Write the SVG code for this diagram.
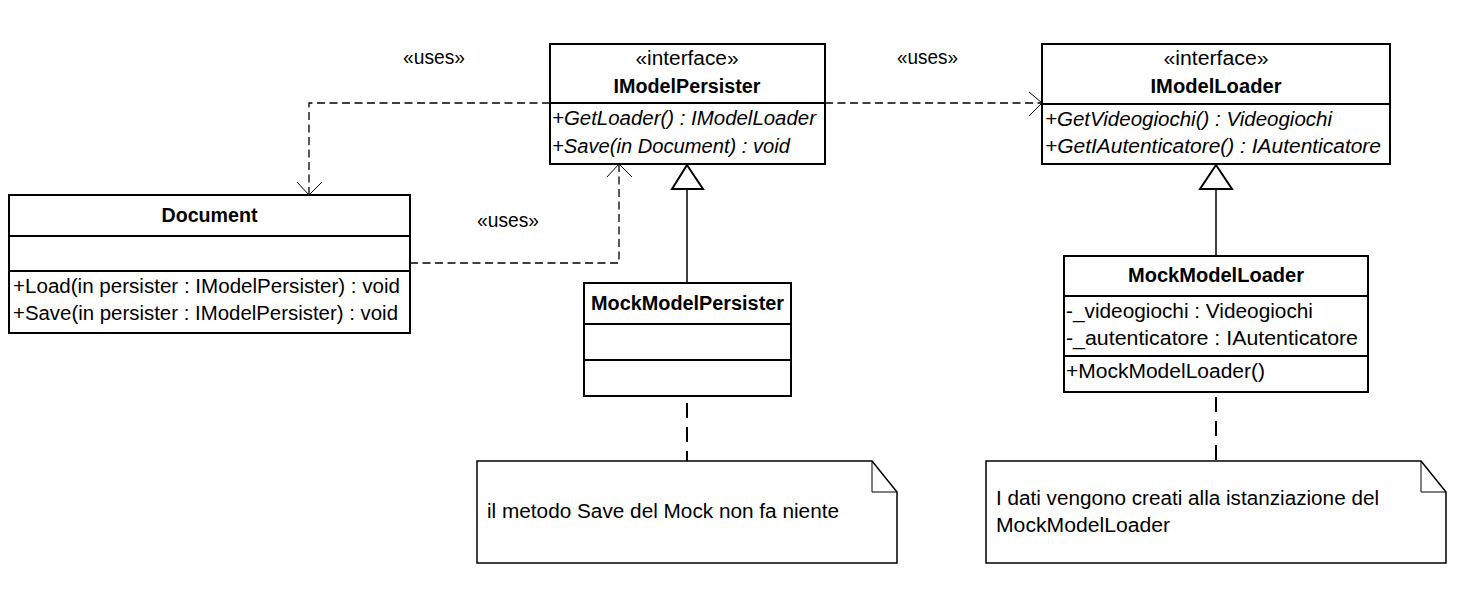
<svg xmlns="http://www.w3.org/2000/svg" width="1463" height="607" viewBox="0 0 1463 607">
<style>
text{font-family:"Liberation Sans",Arial,sans-serif;font-size:19.5px;fill:#000}
.b{font-weight:bold}
.i{font-style:italic}
.c{text-anchor:middle}
.box{fill:#fff;stroke:#000;stroke-width:2}
.div{stroke:#000;stroke-width:2}
.dep{fill:none;stroke:#000;stroke-width:1.3;stroke-dasharray:8 4.5}
.head{fill:none;stroke:#000;stroke-width:1}
.gen{fill:none;stroke:#000;stroke-width:1.5}
.tri{fill:#fff;stroke:#000;stroke-width:2}
.anchor{fill:none;stroke:#000;stroke-width:2;stroke-dasharray:15 9}
.note{fill:#fff;stroke:#000;stroke-width:1.5}
.fold{fill:none;stroke:#000;stroke-width:1}
</style>
<rect width="1463" height="607" fill="#fff"/>
<g id="connectors">
<path class="dep" d="M550,103 H309 V194"/>
<path class="head" d="M297,182 L309,195 L322,182"/>
<path class="dep" d="M410,263 H619 V165"/>
<path class="head" d="M607,177 L619,164 L632,177"/>
<path class="dep" d="M825,103 H1041"/>
<path class="head" d="M1029,92 L1042,103 L1029,116"/>
<line class="gen" x1="687" y1="283" x2="687" y2="189"/>
<polygon class="tri" points="687,165 672,189 703,189"/>
<line class="gen" x1="1216" y1="256" x2="1216" y2="189"/>
<polygon class="tri" points="1216,165 1200,189 1232,189"/>
<line class="anchor" x1="687" y1="397" x2="687" y2="461" stroke-dashoffset="-6"/>
<line class="anchor" x1="1216" y1="392" x2="1216" y2="461" stroke-dashoffset="-5"/>
<text x="403" y="64" textLength="62" lengthAdjust="spacingAndGlyphs">«uses»</text>
<text x="897" y="64" textLength="61" lengthAdjust="spacingAndGlyphs">«uses»</text>
<text x="477" y="227" textLength="62" lengthAdjust="spacingAndGlyphs">«uses»</text>
</g>
<g id="Document">
<rect class="box" x="9" y="195" width="401" height="138"/>
<line class="div" x1="9" y1="236" x2="410" y2="236"/>
<line class="div" x1="9" y1="271" x2="410" y2="271"/>
<text class="b c" x="209.5" y="222" textLength="96" lengthAdjust="spacingAndGlyphs">Document</text>
<text x="13" y="293" textLength="387" lengthAdjust="spacingAndGlyphs">+Load(in persister : IModelPersister) : void</text>
<text x="13" y="320" textLength="385" lengthAdjust="spacingAndGlyphs">+Save(in persister : IModelPersister) : void</text>
</g>
<g id="IModelPersister">
<rect class="box" x="550" y="44" width="275" height="120"/>
<line class="div" x1="550" y1="103" x2="825" y2="103"/>
<text class="c" x="687" y="65" textLength="103" lengthAdjust="spacingAndGlyphs">«interface»</text>
<text class="b c" x="687" y="93" textLength="147" lengthAdjust="spacingAndGlyphs">IModelPersister</text>
<text class="i" x="552" y="125" textLength="264" lengthAdjust="spacingAndGlyphs">+GetLoader() : IModelLoader</text>
<text class="i" x="552" y="153" textLength="238" lengthAdjust="spacingAndGlyphs">+Save(in Document) : void</text>
</g>
<g id="IModelLoader">
<rect class="box" x="1042" y="44" width="348" height="120"/>
<line class="div" x1="1042" y1="104" x2="1390" y2="104"/>
<text class="c" x="1216" y="65" textLength="105" lengthAdjust="spacingAndGlyphs">«interface»</text>
<text class="b c" x="1216" y="93" textLength="131" lengthAdjust="spacingAndGlyphs">IModelLoader</text>
<text class="i" x="1045" y="126" textLength="287" lengthAdjust="spacingAndGlyphs">+GetVideogiochi() : Videogiochi</text>
<text class="i" x="1045" y="153" textLength="336" lengthAdjust="spacingAndGlyphs">+GetIAutenticatore() : IAutenticatore</text>
</g>
<g id="MockModelPersister">
<rect class="box" x="584" y="283" width="207" height="113"/>
<line class="div" x1="584" y1="324" x2="791" y2="324"/>
<line class="div" x1="584" y1="360" x2="791" y2="360"/>
<text class="b c" x="687.5" y="310" textLength="193" lengthAdjust="spacingAndGlyphs">MockModelPersister</text>
</g>
<g id="MockModelLoader">
<rect class="box" x="1064" y="256" width="304" height="136"/>
<line class="div" x1="1064" y1="296" x2="1368" y2="296"/>
<line class="div" x1="1064" y1="356" x2="1368" y2="356"/>
<text class="b c" x="1216" y="282" textLength="176" lengthAdjust="spacingAndGlyphs">MockModelLoader</text>
<text x="1066" y="318" textLength="247" lengthAdjust="spacingAndGlyphs">-_videogiochi : Videogiochi</text>
<text x="1066" y="345" textLength="292" lengthAdjust="spacingAndGlyphs">-_autenticatore : IAutenticatore</text>
<text x="1066" y="378" textLength="199" lengthAdjust="spacingAndGlyphs">+MockModelLoader()</text>
</g>
<g id="note1">
<path class="note" d="M477,461 H872 L897,492 V563 H477 Z"/>
<path class="fold" d="M872,461 V492 H897"/>
<text x="487" y="518" textLength="352" lengthAdjust="spacingAndGlyphs">il metodo Save del Mock non fa niente</text>
</g>
<g id="note2">
<path class="note" d="M986,461 H1421 L1446,492 V563 H986 Z"/>
<path class="fold" d="M1421,461 V492 H1446"/>
<text x="996" y="505" textLength="383" lengthAdjust="spacingAndGlyphs">I dati vengono creati alla istanziazione del</text>
<text x="996" y="532" textLength="174" lengthAdjust="spacingAndGlyphs">MockModelLoader</text>
</g>
</svg>
